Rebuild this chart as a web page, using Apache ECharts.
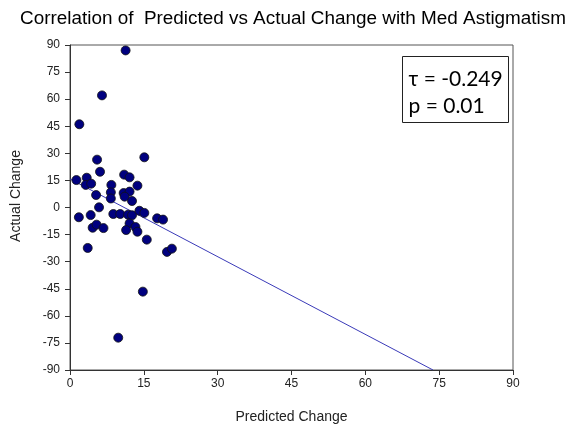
<!DOCTYPE html>
<html>
<head>
<meta charset="utf-8">
<script src="https://cdn.jsdelivr.net/npm/echarts@6/dist/echarts.min.js"></script>
<style>
  html, body { margin: 0; padding: 0; background: #fff; }
  #chart { width: 571px; height: 432px; }
</style>
</head>
<body>
<div id="chart"></div>
<script>
// Predicted vs actual change (one point per eye)
var predicted = [11.3, 6.5, 1.9, 5.5, 15.1, 6.1, 1.3, 3.4, 3.2, 4.3, 11.0, 12.1, 8.4, 13.7, 5.3,
                 8.3, 10.9, 12.1, 8.3, 11.1, 12.6, 5.9, 1.8, 4.2, 8.8, 10.2, 11.8, 12.6, 14.1, 15.1,
                 12.1, 13.3, 13.7, 11.4, 4.6, 5.4, 6.8, 15.6, 3.6, 17.7, 18.9, 19.7, 20.7, 14.8, 9.8];
var actual    = [87.0, 62.1, 46.1, 26.5, 27.8, 19.8, 15.2, 16.5, 12.5, 13.2, 18.2, 16.7, 12.5, 12.1, 6.9,
                 8.4, 8.0, 8.8, 5.0, 6.0, 3.6, 0.1, -5.4, -4.2, -3.6, -3.6, -4.0, -4.3, -1.8, -3.0,
                 -8.8, -10.8, -13.4, -12.5, -11.2, -9.5, -11.4, -17.8, -22.4, -6.0, -6.7, -24.6, -22.8, -46.6, -72.1];

// Fitted trend line end points
var trendX = [0, 73.75];
var trendY = [15.8, -90];

var xTicks = [0, 15, 30, 45, 60, 75, 90];
var yTicks = [-90, -75, -60, -45, -30, -15, 0, 15, 30, 45, 60, 75, 90];

var statLines = ['\u03c4 = -0.249', 'p = 0.01'];

var chart = echarts.init(document.getElementById('chart'), null, { renderer: 'canvas' });

var sans = 'Liberation Sans, Arial, sans-serif';
var axisFont = { fontFamily: sans, color: '#222', fontSize: 12 };

chart.setOption({
  animation: false,
  backgroundColor: '#fff',
  title: {
    text: 'Correlation of  Predicted vs Actual Change with Med Astigmatism',
    left: 15,
    top: 4,
    textStyle: { fontFamily: sans, fontWeight: 'normal', fontSize: 18.9, color: '#000' }
  },
  grid: {
    left: 70, right: 58, top: 45, bottom: 62,
    show: true, borderColor: '#555', borderWidth: 1, backgroundColor: 'transparent'
  },
  xAxis: {
    type: 'value', min: xTicks[0], max: xTicks[xTicks.length - 1], interval: 15,
    name: 'Predicted Change', nameLocation: 'middle', nameGap: 40,
    nameTextStyle: { fontFamily: sans, fontSize: 14, color: '#222' },
    axisLine: { show: true, onZero: false, lineStyle: { color: '#333', width: 1 } },
    axisTick: { show: true, inside: false, length: 5, lineStyle: { color: '#333' } },
    axisLabel: Object.assign({ margin: 8 }, axisFont),
    splitLine: { show: false }
  },
  yAxis: {
    type: 'value', min: yTicks[0], max: yTicks[yTicks.length - 1], interval: 15,
    axisLine: { show: true, onZero: false, lineStyle: { color: '#333', width: 1 } },
    axisTick: { show: true, inside: false, length: 5, lineStyle: { color: '#333' } },
    axisLabel: Object.assign({ margin: 10 }, axisFont),
    splitLine: { show: false }
  },
  graphic: [
    {
      type: 'text',
      x: 16, y: 196, rotation: Math.PI / 2,
      style: { text: 'Actual Change', fontFamily: sans, fontSize: 14, fill: '#222',
               align: 'center', verticalAlign: 'middle' }
    },
    {
      type: 'group',
      left: 402, top: 56,
      children: [
        { type: 'rect', shape: { x: 0, y: 0, width: 106, height: 66 },
          style: { fill: '#fff', stroke: '#222', lineWidth: 1 } },
        { type: 'text', left: 6, top: 12,
          style: { text: statLines[0], fontFamily: 'Lato, Noto Sans, sans-serif', fontSize: 21, fill: '#000' } },
        { type: 'text', left: 6, top: 39,
          style: { text: statLines[1], fontFamily: 'Lato, Noto Sans, sans-serif', fontSize: 21, fill: '#000' } }
      ]
    }
  ],
  series: [
    {
      type: 'line',
      data: trendX.map(function (x, i) { return [x, trendY[i]]; }),
      symbol: 'none',
      lineStyle: { color: '#3a3ab8', width: 1 },
      z: 1
    },
    {
      type: 'scatter',
      data: predicted.map(function (x, i) { return [x, actual[i]]; }),
      symbol: 'circle',
      symbolSize: 9,
      itemStyle: { color: '#00007f', borderColor: '#111', borderWidth: 0.8, opacity: 1 },
      z: 2
    }
  ]
});
</script>
</body>
</html>
